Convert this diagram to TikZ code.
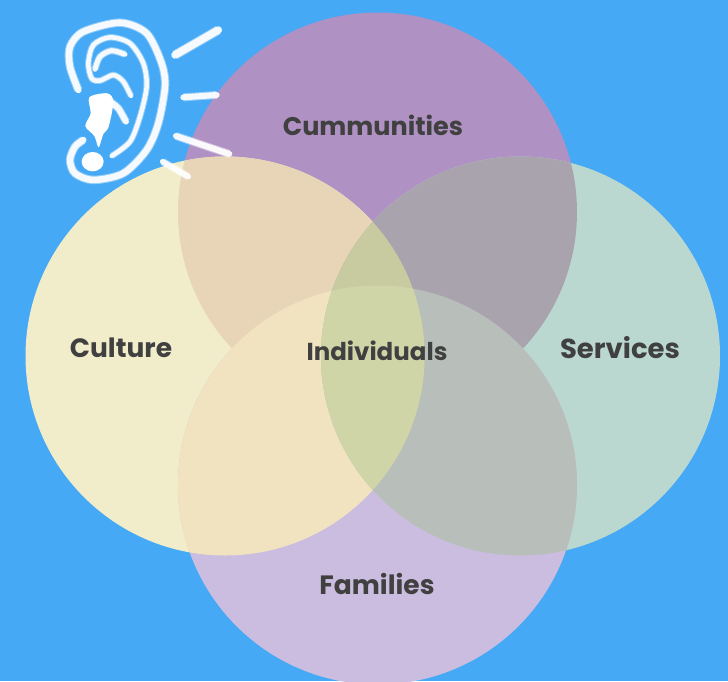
\documentclass[tikz,border=0pt]{standalone}
\usepackage{fontspec}
\setmainfont{Poppins}
\definecolor{skyback}{HTML}{45A9F5}
\definecolor{topfill}{HTML}{B091C3}
\definecolor{rightfill}{HTML}{BBD8D0}
\definecolor{leftfill}{HTML}{F1EDCB}
\definecolor{lowfill}{HTML}{CBBDDF}
\definecolor{topleft}{HTML}{E8D5B8}
\definecolor{topright}{HTML}{A9A3AE}
\definecolor{lowleft}{HTML}{F1E3C0}
\definecolor{lowright}{HTML}{B8BFBA}
\definecolor{midupper}{HTML}{C8CBA0}
\definecolor{midlower}{HTML}{D0D5A8}
\definecolor{labeltext}{HTML}{404040}
\newcommand{\circT}{(377.5,212) circle (199.5)}
\newcommand{\circR}{(520.5,356) circle (199.5)}
\newcommand{\circL}{(225,356) circle (199.5)}
\newcommand{\circB}{(377.5,485) circle (199.5)}
\newcommand{\overlapfill}[3]{\begin{scope}\clip #1;\clip #2;\fill[#3] (0,0) rectangle (728,681);\end{scope}}
\tikzset{
  vennlabel/.style={text=labeltext, font=\fontsize{#1}{30pt}\selectfont\bfseries, inner sep=0pt},
  vennlabel/.default=26.5pt,
  chalk/.style={draw=white, draw opacity=.92, line width=#1, line cap=round, line join=round,
    preaction={draw=white, draw opacity=.4, line width=#1+2pt}},
  chalk/.default=6.5pt
}
\begin{document}
\begin{tikzpicture}[x=1pt,y=-1pt]
\useasboundingbox (0,0) rectangle (728,681);
\fill[skyback] (0,0) rectangle (728,681);
% the four circles
\fill[topfill] \circT;
\fill[rightfill] \circR;
\fill[leftfill] \circL;
\fill[lowfill] \circB;
% overlaps
\overlapfill{\circT}{\circL}{topleft}
\overlapfill{\circT}{\circR}{topright}
\overlapfill{\circB}{\circL}{lowleft}
\overlapfill{\circB}{\circR}{lowright}
\begin{scope}
\clip \circL; \clip \circR;
\fill[midupper] \circT;
\fill[midlower] \circB;
\end{scope}
% labels
\node[vennlabel=25.5pt] (communities) at (373,125.5) {Cummunities};
\node[vennlabel] (culture) at (121,348) {Culture};
\node[vennlabel=24.5pt] (individuals) at (377,351) {Individuals};
\node[vennlabel=27.5pt] (services) at (620,348) {Services};
\node[vennlabel] (families) at (377,583.5) {Families};
% ear, in crop pixels
\begin{scope}[shift={(50,10)},x=.3333pt,y=-.3333pt]
\draw[chalk] plot[smooth] coordinates {(85,240) (60,170) (60,110) (100,65) (210,38) (290,70) (335,160) (345,230) (325,340) (290,420) (220,490) (130,510) (75,490) (60,450) (75,410) (100,390)};
\draw[chalk=4.5pt] plot[smooth] coordinates {(185,438) (240,395) (270,320) (290,230) (280,160) (240,100) (180,82) (130,105) (115,160) (125,205) (150,212) (190,195) (220,215) (243,258)};
\draw[chalk=5pt] plot[smooth] coordinates {(135,178) (150,140) (185,122) (225,133)};
\draw[chalk=6pt] plot[smooth] coordinates {(180,275) (205,295) (228,335)};
\fill[white] plot[smooth cycle] coordinates {(118,262) (172,250) (190,275) (176,350) (160,372) (146,412) (133,378) (106,348) (122,310)};
\fill[white] (128,455) ellipse (33 and 29);
\draw[chalk=7.5pt] (375,135) -- (505,60);
\draw[chalk=6pt] (400,262) -- (500,255);
\draw[chalk=6pt] (378,378) -- (538,432);
\draw[chalk=5.5pt] (338,455) -- (415,500);
\end{scope}
\end{tikzpicture}
\end{document}
